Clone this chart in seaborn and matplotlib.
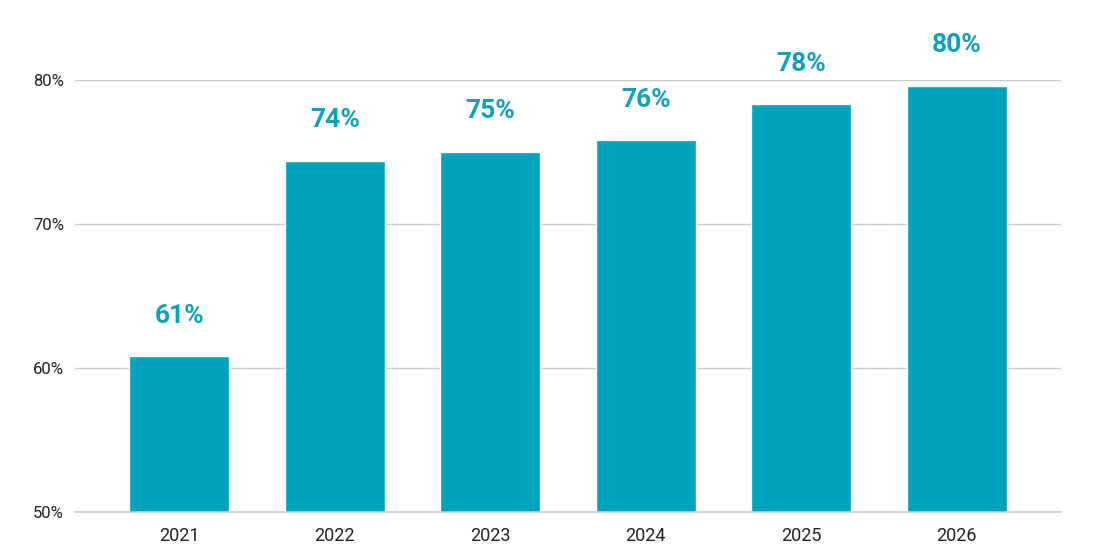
import matplotlib
matplotlib.use("Agg")
import matplotlib.pyplot as plt
import seaborn as sns
import pandas as pd
from matplotlib.ticker import FuncFormatter

years = ["2021", "2022", "2023", "2024", "2025", "2026"]
values = [60.8, 74.4, 75.0, 75.8, 78.3, 79.6]
labels = ["61%", "74%", "75%", "76%", "78%", "80%"]
yticks = [50, 60, 70, 80]

df = pd.DataFrame({"year": years, "value": values})

sns.set_theme(style="white")
plt.rcParams["font.family"] = ["Roboto", "DejaVu Sans"]

fig = plt.figure(figsize=(10.97, 5.59), dpi=100)
ax = fig.add_axes([75 / 1097, 1 - 512 / 559, (1061 - 75) / 1097, (512 - 80) / 559])

color = "#00A3BD"
sns.barplot(data=df, x="year", y="value", color=color, width=0.645, ax=ax,
            saturation=1, zorder=3)

ax.set_ylim(50, 80)
ax.set_xlim(-0.67, 5.67)
ax.set_yticks(yticks)
ax.yaxis.set_major_formatter(FuncFormatter(lambda v, p: f"{int(v)}%"))
ax.grid(axis="y", color="#cccccc", linewidth=1, zorder=0)
ax.axhline(50, color="#cccccc", linewidth=1.2, zorder=4, clip_on=False)
ax.set_axisbelow(True)
for s in ax.spines.values():
    s.set_visible(False)
ax.set_xlabel("")
ax.set_ylabel("")
ax.tick_params(axis="x", length=0, labelsize=13, colors="#222222", pad=11)
ax.tick_params(axis="y", length=0, labelsize=12, colors="#222222", pad=8)

for i, (v, lab) in enumerate(zip(values, labels)):
    ax.annotate(lab, xy=(i, v), xytext=(0, 29.5), textcoords="offset points",
                ha="center", va="center", fontsize=19, fontweight="bold",
                color="#10A0B8", annotation_clip=False)

fig.savefig("out.png", dpi=100)
